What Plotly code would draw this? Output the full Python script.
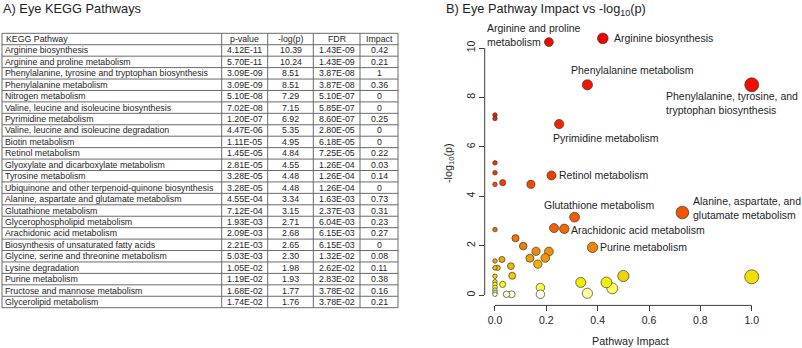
import colorsys
import numpy as np
import plotly.graph_objects as go

# ---------------- data ----------------
pathways = [
    "Arginine biosynthesis",
    "Arginine and proline metabolism",
    "Phenylalanine, tyrosine and tryptophan biosynthesis",
    "Phenylalanine metabolism",
    "Nitrogen metabolism",
    "Valine, leucine and isoleucine biosynthesis",
    "Pyrimidine metabolism",
    "Valine, leucine and isoleucine degradation",
    "Biotin metabolism",
    "Retinol metabolism",
    "Glyoxylate and dicarboxylate metabolism",
    "Tyrosine metabolism",
    "Ubiquinone and other terpenoid-quinone biosynthesis",
    "Alanine, aspartate and glutamate metabolism",
    "Glutathione metabolism",
    "Glycerophospholipid metabolism",
    "Arachidonic acid metabolism",
    "Biosynthesis of unsaturated fatty acids",
    "Glycine, serine and threonine metabolism",
    "Lysine degradation",
    "Purine metabolism",
    "Fructose and mannose metabolism",
    "Glycerolipid metabolism",
]
p_values = [4.12e-11, 5.70e-11, 3.09e-09, 3.09e-09, 5.10e-08, 7.02e-08, 1.20e-07,
            4.47e-06, 1.11e-05, 1.45e-05, 2.81e-05, 3.28e-05, 3.28e-05, 4.55e-04,
            7.12e-04, 1.93e-03, 2.09e-03, 2.21e-03, 5.03e-03, 1.05e-02, 1.19e-02,
            1.68e-02, 1.74e-02]
neg_log_p = [10.39, 10.24, 8.51, 8.51, 7.29, 7.15, 6.92, 5.35, 4.95, 4.84, 4.55,
             4.48, 4.48, 3.34, 3.15, 2.71, 2.68, 2.65, 2.30, 1.98, 1.93, 1.77, 1.76]
fdr = [1.43e-09, 1.43e-09, 3.87e-08, 3.87e-08, 5.10e-07, 5.85e-07, 8.60e-07,
       2.80e-05, 6.18e-05, 7.25e-05, 1.26e-04, 1.26e-04, 1.26e-04, 1.63e-03,
       2.37e-03, 6.04e-03, 6.15e-03, 6.15e-03, 1.32e-02, 2.62e-02, 2.83e-02,
       3.78e-02, 3.78e-02]
impact = [0.42, 0.21, 1, 0.36, 0, 0, 0.25, 0, 0, 0.22, 0.03, 0.14, 0, 0.73, 0.31,
          0.23, 0.27, 0, 0.08, 0.11, 0.38, 0.16, 0.21]

# remaining (non-significant) pathways shown in the bubble plot only
other_impact = [0.136, 0.196, 0.167, 0.0, 0.027, 0.0, 0.01, 0.062, 0.067, 0.0,
                0.03, 0.0, 0.0, 0.0, 0.0, 0.0, 0.0, 0.045, 0.065, 0.177, 0.177,
                0.334, 0.36, 0.434, 0.457, 0.50, 1.0]
other_neg_log_p = [1.49, 1.50, 1.25, 1.38, 1.44, 1.10, 1.10, 1.17, 0.78, 0.76,
                   0.43, 0.54, 0.43, 0.31, 0.20, 0.11, 0.03, 0.03, 0.03, 0.30, 0.03,
                   0.51, 0.07, 0.51, 0.27, 0.77, 0.74]

table_header = ["KEGG Pathway", "p-value", "-log(p)", "FDR", "Impact"]

x_ticks = [0.0, 0.2, 0.4, 0.6, 0.8, 1.0]
y_ticks = [0, 2, 4, 6, 8, 10]

labelled = {
    "Arginine biosynthesis": "Arginine biosynthesis",
    "Arginine and proline metabolism": "Arginine and proline<br>metabolism",
    "Phenylalanine metabolism": "Phenylalanine metabolism",
    "Phenylalanine, tyrosine and tryptophan biosynthesis":
        "Phenylalanine, tyrosine, and<br>tryptophan biosynthesis",
    "Pyrimidine metabolism": "Pyrimidine metabolism",
    "Retinol metabolism": "Retinol metabolism",
    "Glutathione metabolism": "Glutathione metabolism",
    "Alanine, aspartate and glutamate metabolism":
        "Alanine, aspartate, and<br>glutamate metabolism",
    "Arachidonic acid metabolism": "Arachidonic acid metabolism",
    "Purine metabolism": "Purine metabolism",
}

# ---------------- styling ----------------
W, H = 802, 348
FONT = "Liberation Sans, Arial, Helvetica, sans-serif"
TEXT = "#1e1e1e"
LABEL_SIZE = 10.5

# label placement: (xanchor, xshift px, yshift px)
label_pos = {
    "Arginine biosynthesis": ("left", 10, 0),
    "Arginine and proline metabolism": ("left", -63, 7),
    "Phenylalanine metabolism": ("center", 45, 15),
    "Phenylalanine, tyrosine and tryptophan biosynthesis": ("left", -87, -18),
    "Pyrimidine metabolism": ("left", -7, -14),
    "Retinol metabolism": ("left", 7, 0),
    "Glutathione metabolism": ("left", -32, 12),
    "Alanine, aspartate and glutamate metabolism": ("left", 10, 5),
    "Arachidonic acid metabolism": ("left", 6, -1),
    "Purine metabolism": ("left", 6, 0),
}


def px_x(px):
    return px / W


def px_y(py):
    return 1 - py / H


def heat_colors(n, v=0.95):
    """R-style heat.colors palette: red -> yellow -> near white."""
    j = n // 4
    i = n - j
    cols = []
    for h in np.linspace(0, 1 / 6, i):
        cols.append(colorsys.hsv_to_rgb(h, 1, v))
    if j > 0:
        for s in np.linspace(1 - 1 / (2 * j), 1 / (2 * j), j):
            cols.append(colorsys.hsv_to_rgb(1 / 6, s, 1))
    return ["rgb(%d,%d,%d)" % (round(r * 255), round(g * 255), round(b * 255))
            for r, g, b in cols]


all_impact = list(impact) + list(other_impact)
all_nlp = list(neg_log_p) + list(other_neg_log_p)
n_pts = len(all_impact)
order = sorted(range(n_pts), key=lambda k: -all_nlp[k])
palette = heat_colors(n_pts)
colors = [None] * n_pts
for rank, k in enumerate(order):
    colors[k] = palette[rank]
sizes = [4.5 + 9.5 * np.sqrt(v) for v in all_impact]

fig = go.Figure()

# draw the smaller bubbles last so they stay visible
draw = sorted(range(n_pts), key=lambda k: -sizes[k])
fig.add_trace(go.Scatter(
    x=[all_impact[k] for k in draw],
    y=[all_nlp[k] for k in draw],
    mode="markers",
    marker=dict(size=[sizes[k] for k in draw],
                color=[colors[k] for k in draw],
                line=dict(color="#3a3a3a", width=0.7),
                opacity=1),
    hoverinfo="skip",
    showlegend=False,
))

annotations = []

# bubble labels
for name, txt in labelled.items():
    k = pathways.index(name)
    xa, xs, ys = label_pos[name]
    annotations.append(dict(
        x=impact[k], y=neg_log_p[k], xref="x", yref="y",
        text=txt, showarrow=False, xanchor=xa, yanchor="middle",
        xshift=xs, yshift=ys, align="left", borderpad=0,
        font=dict(family=FONT, size=LABEL_SIZE, color=TEXT)))

# panel titles
annotations.append(dict(x=px_x(2), y=1, xref="paper", yref="paper",
                        text="A) Eye KEGG Pathways", showarrow=False,
                        xanchor="left", yanchor="top", borderpad=0,
                        font=dict(family=FONT, size=12.8, color=TEXT)))
annotations.append(dict(x=px_x(445), y=1, xref="paper", yref="paper",
                        text="B) Eye Pathway Impact vs -log<sub>10</sub>(p)",
                        showarrow=False, xanchor="left", yanchor="top",
                        borderpad=0, font=dict(family=FONT, size=12.8, color=TEXT)))

# axis titles
annotations.append(dict(x=px_x(630), y=px_y(341), xref="paper", yref="paper",
                        text="Pathway Impact", showarrow=False,
                        xanchor="center", yanchor="middle", borderpad=0,
                        font=dict(family=FONT, size=10.8, color=TEXT)))
annotations.append(dict(x=px_x(449), y=px_y(163), xref="paper", yref="paper",
                        text="-log<sub>10</sub>(p)", showarrow=False,
                        textangle=-90, xanchor="center", yanchor="middle",
                        borderpad=0, font=dict(family=FONT, size=10.8, color=TEXT)))

# ---------------- table (left panel) ----------------
col_edges = [2, 221.7, 267.7, 313.3, 360, 398]
tab_top, tab_bottom = 33.3, 307.7
rows = [table_header] + [
    [pathways[i], "%.2E" % p_values[i], "%.2f" % neg_log_p[i], "%.2E" % fdr[i],
     "%g" % impact[i]] for i in range(len(pathways))]
row_h = (tab_bottom - tab_top) / len(rows)

shapes = []
line_col = "#6a6a6a"
for r in range(len(rows) + 1):
    yy = px_y(tab_top + r * row_h)
    shapes.append(dict(type="line", xref="paper", yref="paper",
                       x0=px_x(col_edges[0]), x1=px_x(col_edges[-1]), y0=yy, y1=yy,
                       line=dict(color=line_col, width=1)))
for xe in col_edges:
    shapes.append(dict(type="line", xref="paper", yref="paper",
                       x0=px_x(xe), x1=px_x(xe), y0=px_y(tab_top), y1=px_y(tab_bottom),
                       line=dict(color=line_col, width=1)))

for r, row in enumerate(rows):
    yc = px_y(tab_top + (r + 0.5) * row_h)
    for c, val in enumerate(row):
        if c == 0:
            xx, xa = px_x(col_edges[0] + 2 + (1 if r == 0 else 0)), "left"
        else:
            xx, xa = px_x((col_edges[c] + col_edges[c + 1]) / 2), "center"
        annotations.append(dict(x=xx, y=yc, xref="paper", yref="paper", text=val,
                                showarrow=False, xanchor=xa, yanchor="middle",
                                borderpad=0,
                                font=dict(family=FONT, size=8.8, color=TEXT)))

# R-style axis lines spanning only the tick range
shapes.append(dict(type="line", xref="x", yref="y domain", x0=x_ticks[0], x1=x_ticks[-1],
                   y0=0, y1=0, line=dict(color="#3c3c3c", width=1)))
shapes.append(dict(type="line", xref="x domain", yref="y", x0=0, x1=0,
                   y0=y_ticks[0], y1=y_ticks[-1], line=dict(color="#3c3c3c", width=1)))

fig.update_layout(
    width=W, height=H,
    margin=dict(l=0, r=0, t=0, b=0),
    paper_bgcolor="white", plot_bgcolor="white",
    font=dict(family=FONT, color=TEXT),
    xaxis=dict(domain=[px_x(484.7), px_x(762)], range=[-0.04, 1.04],
               tickvals=x_ticks, ticktext=["%.1f" % v for v in x_ticks],
               ticks="outside", ticklen=5, tickcolor="#3c3c3c", tickwidth=1,
               showgrid=False, zeroline=False, showline=False,
               tickfont=dict(family=FONT, size=10.5, color=TEXT), fixedrange=True),
    yaxis=dict(domain=[px_y(305.4), px_y(28)], range=[-0.42, 10.81],
               tickvals=y_ticks, ticktext=[str(v) for v in y_ticks],
               ticks="outside", ticklen=5, tickcolor="#3c3c3c", tickwidth=1,
               tickangle=-90,
               showgrid=False, zeroline=False, showline=False,
               tickfont=dict(family=FONT, size=10.5, color=TEXT), fixedrange=True),
    annotations=annotations,
    shapes=shapes,
)

fig.write_html("out.html")
